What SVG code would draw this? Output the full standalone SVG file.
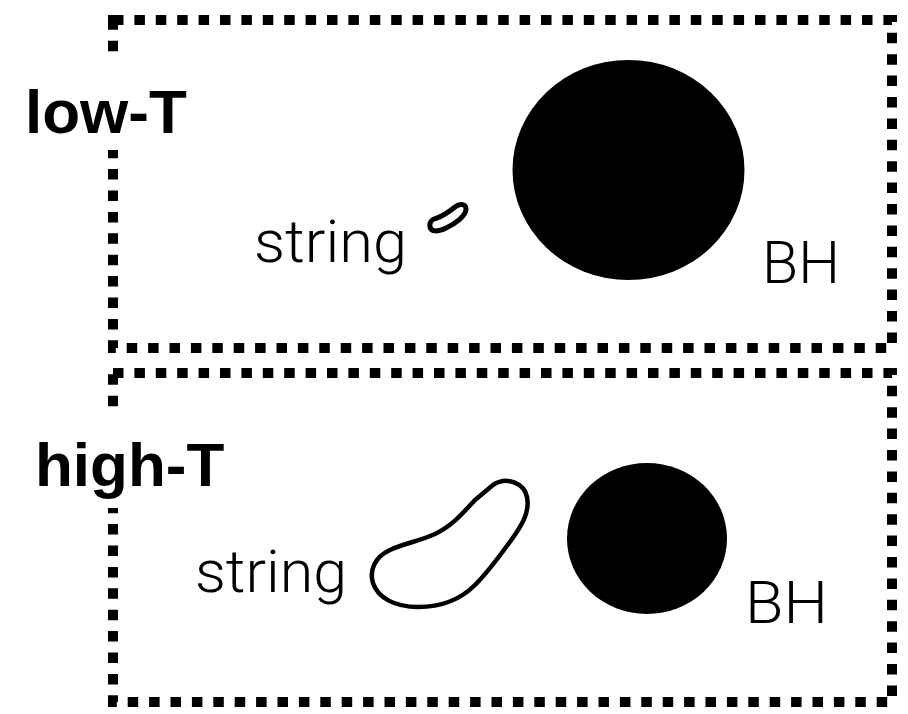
<svg xmlns="http://www.w3.org/2000/svg" width="908" height="714" viewBox="0 0 908 714">
  <style>
    .frame { fill: none; stroke: #000; stroke-width: 10; stroke-dasharray: 10.5 10.9; }
    .mask { fill: #fff; }
    .phase { font-family: "Liberation Sans", Arial, sans-serif; font-weight: 700; font-size: 62px; fill: #000; }
    .lbl { font-family: Roboto, "Liberation Sans", sans-serif; font-weight: 300; font-size: 60px; fill: #000; }
    .loop { fill: none; stroke: #000; stroke-width: 4.5; stroke-linejoin: round; }
    .bh { fill: #000; }
  </style>
  <rect width="908" height="714" fill="#fff"/>

  <!-- low temperature panel -->
  <g id="low-T">
    <rect class="frame" x="113" y="20" width="779" height="328"/>
    <rect class="mask" x="20" y="58" width="175" height="92"/>
    <text class="phase" x="25" y="133">low-T</text>
    <g id="low-string">
      <path class="loop" style="stroke-width:5" d="M 437,218 C 445,215 450,211 455,207 C 460,203 466,204 466,209 C 466,216 455,224 446,228 C 438,232 431,232 430,227 C 429,222 432,219 437,218 Z"/>
      <text class="lbl" x="254" y="262" textLength="153" lengthAdjust="spacingAndGlyphs">string</text>
    </g>
    <g id="low-bh">
      <ellipse class="bh" cx="628.5" cy="170" rx="116" ry="110"/>
      <text class="lbl" x="762" y="283" textLength="78" lengthAdjust="spacingAndGlyphs">BH</text>
    </g>
  </g>

  <!-- high temperature panel -->
  <g id="high-T">
    <rect class="frame" x="113" y="373" width="779" height="329"/>
    <rect class="mask" x="30" y="416" width="200" height="92"/>
    <text class="phase" x="35" y="486">high-T</text>
    <g id="high-string">
      <path class="loop" d="M 493,485 C 507,476 524,483 527,497 C 530,512 522,525 512,539 C 501,554 490,570 475,585 C 460,600 440,607 418,607 C 395,607 378,598 373,583 C 369,570 375,557 390,550 C 405,543 420,541 435,534 C 452,526 462,514 475,500 Z"/>
      <text class="lbl" x="195" y="592" textLength="152" lengthAdjust="spacingAndGlyphs">string</text>
    </g>
    <g id="high-bh">
      <ellipse class="bh" cx="647" cy="538.5" rx="80" ry="75.5"/>
      <text class="lbl" x="745" y="623" textLength="83" lengthAdjust="spacingAndGlyphs">BH</text>
    </g>
  </g>
</svg>
